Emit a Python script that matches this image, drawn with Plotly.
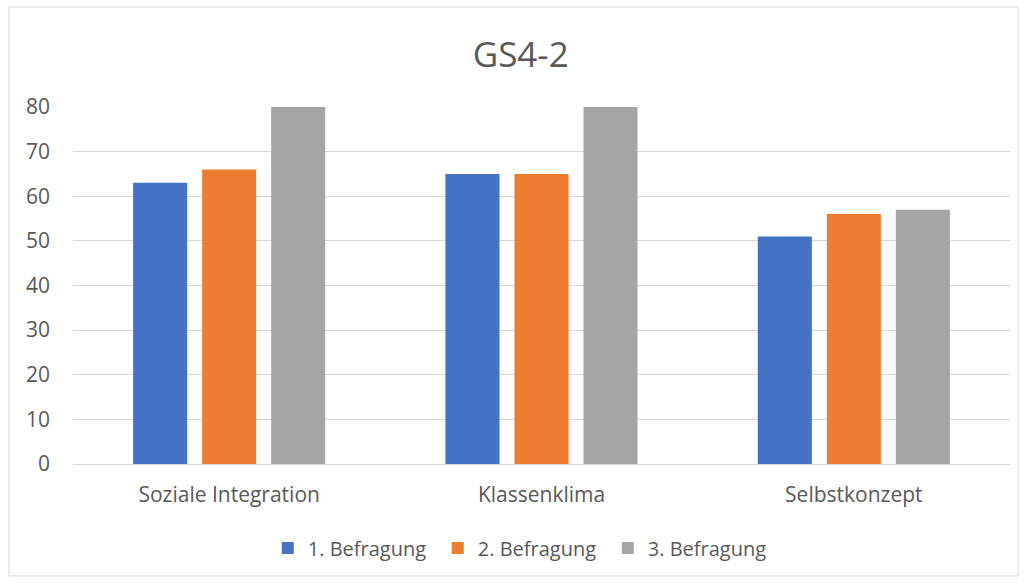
import plotly.graph_objects as go

categories = ["Soziale Integration", "Klassenklima", "Selbstkonzept"]
series_names = ["1. Befragung", "2. Befragung", "3. Befragung"]
befragung1 = [63, 65, 51]
befragung2 = [66, 65, 56]
befragung3 = [80, 80, 57]
colors = ["#4472C4", "#ED7D31", "#A5A5A5"]
y_ticks = [0, 10, 20, 30, 40, 50, 60, 70, 80]

W, H = 1027, 583
ml, mr, mt, mb = 73, 17, 107, 119
pw, ph = W - ml - mr, H - mt - mb

fig = go.Figure()
for name, vals, c in zip(series_names, [befragung1, befragung2, befragung3], colors):
    fig.add_trace(go.Bar(x=categories, y=vals, name=name, marker=dict(color=c, line=dict(width=0))))

font_family = "Open Sans, Liberation Sans, sans-serif"
txt = "#595959"

# frame around the chart area (in paper coords)
fx0, fy0, fx1, fy1 = 9, 7, 1018, 576
fig.add_shape(type="rect", xref="paper", yref="paper",
              x0=(fx0 - ml) / pw, x1=(fx1 - ml) / pw,
              y0=(H - mb - fy1) / ph, y1=(H - mb - fy0) / ph,
              line=dict(color="#d9d9d9", width=1), fillcolor="rgba(0,0,0,0)", layer="below")

fig.update_layout(
    width=W, height=H,
    margin=dict(l=ml, r=mr, t=mt, b=mb, pad=0),
    paper_bgcolor="white", plot_bgcolor="white",
    barmode="group", bargap=0.337, bargroupgap=0.217,
    title=dict(text="GS4-2", x=0.507, xanchor="center", y=1 - 55 / H, yanchor="middle",
               font=dict(family=font_family, size=35, color=txt)),
    font=dict(family=font_family, color=txt),
    legend=dict(orientation="h", x=0.48, xanchor="center", y=(H - mb - 548) / ph, yanchor="middle",
                font=dict(size=20, color=txt), itemsizing="constant", traceorder="normal",
                itemwidth=30, entrywidth=125),
    xaxis=dict(showgrid=False, showline=False, ticks="", ticklabelstandoff=16,
               tickfont=dict(size=21, color=txt)),
    yaxis=dict(range=[0, 80], tickvals=y_ticks, showgrid=True, gridcolor="#d9d9d9", gridwidth=1,
               zeroline=True, zerolinecolor="#d9d9d9", zerolinewidth=1, showline=False,
               ticks="", ticklabelstandoff=22, tickfont=dict(size=21, color=txt)),
)

fig.write_html("out.html")
